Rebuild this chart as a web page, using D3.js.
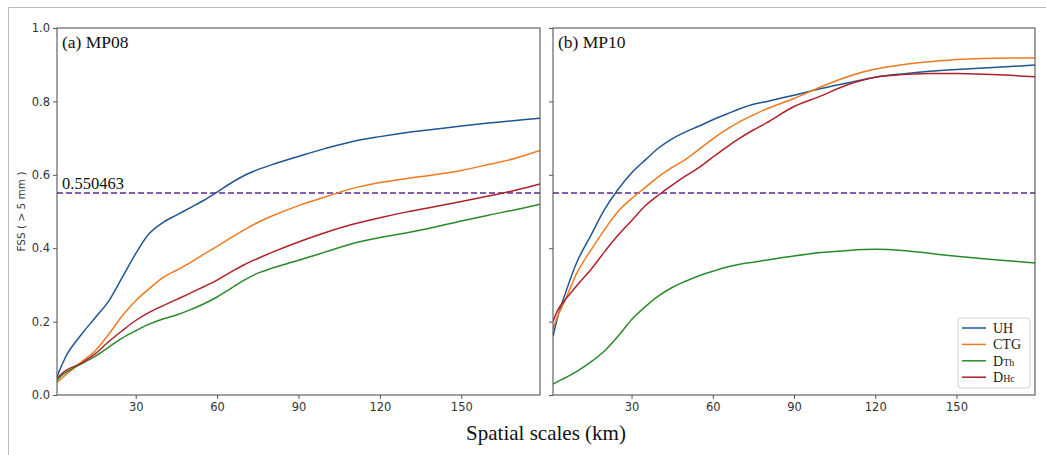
<!DOCTYPE html>
<html>
<head>
<meta charset="utf-8">
<script src="https://cdn.jsdelivr.net/npm/d3@7"></script>
<style>
  body { margin: 0; background: #fff; }
  svg { display: block; }
</style>
</head>
<body>
<div id="chart"></div>
<script>
// spatial scales (km)
var scales = [1, 3, 5, 10, 15, 20, 25, 30, 35, 40, 45, 50, 55, 60, 65, 70, 75, 80, 90, 100, 110, 120, 130, 140, 150, 160, 170, 179];

// (a) MP08
var uhA  = [0.05, 0.085, 0.115, 0.165, 0.21, 0.255, 0.32, 0.385, 0.44, 0.47, 0.49, 0.51, 0.53, 0.553, 0.577, 0.598, 0.614, 0.627, 0.65, 0.672, 0.691, 0.704, 0.715, 0.724, 0.733, 0.741, 0.748, 0.754];
var ctgA = [0.034, 0.047, 0.06, 0.09, 0.12, 0.165, 0.215, 0.257, 0.29, 0.32, 0.34, 0.36, 0.383, 0.405, 0.428, 0.45, 0.47, 0.487, 0.516, 0.54, 0.563, 0.579, 0.59, 0.60, 0.612, 0.628, 0.645, 0.666];
var dthA = [0.04, 0.055, 0.065, 0.085, 0.105, 0.13, 0.155, 0.175, 0.193, 0.207, 0.218, 0.232, 0.248, 0.267, 0.29, 0.313, 0.332, 0.345, 0.367, 0.39, 0.413, 0.429, 0.442, 0.457, 0.474, 0.49, 0.505, 0.52];
var dhcA = [0.045, 0.06, 0.07, 0.087, 0.112, 0.145, 0.175, 0.203, 0.225, 0.243, 0.26, 0.277, 0.295, 0.313, 0.335, 0.355, 0.372, 0.388, 0.417, 0.443, 0.465, 0.483, 0.499, 0.513, 0.527, 0.542, 0.558, 0.575];

// (b) MP10
var uhB  = [0.16, 0.22, 0.265, 0.365, 0.435, 0.505, 0.56, 0.605, 0.64, 0.673, 0.698, 0.717, 0.733, 0.75, 0.765, 0.78, 0.792, 0.80, 0.817, 0.835, 0.851, 0.866, 0.875, 0.882, 0.887, 0.891, 0.895, 0.899];
var ctgB = [0.18, 0.22, 0.25, 0.335, 0.395, 0.45, 0.50, 0.535, 0.565, 0.595, 0.62, 0.642, 0.67, 0.698, 0.723, 0.745, 0.763, 0.78, 0.808, 0.84, 0.868, 0.888, 0.90, 0.908, 0.914, 0.917, 0.918, 0.918];
var dthB = [0.03, 0.038, 0.045, 0.065, 0.09, 0.12, 0.16, 0.205, 0.24, 0.27, 0.293, 0.31, 0.325, 0.337, 0.348, 0.356, 0.362, 0.368, 0.379, 0.388, 0.394, 0.397, 0.394, 0.386, 0.378, 0.371, 0.365, 0.36];
var dhcB = [0.20, 0.235, 0.255, 0.30, 0.342, 0.39, 0.435, 0.475, 0.515, 0.545, 0.572, 0.597, 0.62, 0.648, 0.675, 0.70, 0.722, 0.742, 0.786, 0.815, 0.846, 0.866, 0.873, 0.876, 0.876, 0.874, 0.871, 0.867];

var threshold = 0.550463;
var xTicks = [30, 60, 90, 120, 150];
var yTicks = [0, 0.2, 0.4, 0.6, 0.8, 1.0];
var names = ['UH', 'CTG', 'DTh', 'DHc'];
var colors = ['#1f5591', '#ef7a1f', '#2a8a2a', '#b0202a'];

function draw() {
  var panels = [
    { title: '(a) MP08', left: 57, right: 540, series: [uhA, ctgA, dthA, dhcA], labels: true },
    { title: '(b) MP10', left: 553, right: 1035, series: [uhB, ctgB, dthB, dhcB], labels: false }
  ];

  var width = 1046, height = 455, plotTop = 28, plotBottom = 395;

  var svg = d3.select('#chart').append('svg')
      .attr('width', width)
      .attr('height', height);

  // outer frame
  svg.append('line').attr('x1', 8.5).attr('x2', 8.5).attr('y1', 7.5).attr('y2', height).attr('stroke', '#bbb');
  svg.append('line').attr('x1', 8.5).attr('x2', width).attr('y1', 7.5).attr('y2', 7.5).attr('stroke', '#bbb');

  var y = d3.scaleLinear().domain([0, 1]).range([plotBottom, plotTop]);

  panels.forEach(function(p) {
    var x = d3.scaleLinear().domain([1, 179]).range([p.left, p.right]);
    var g = svg.append('g');

    var clipId = 'clip' + p.left;
    g.append('clipPath').attr('id', clipId)
      .append('rect').attr('x', p.left).attr('y', plotTop).attr('width', p.right - p.left).attr('height', plotBottom - plotTop);

    var line = d3.line()
        .x(function(d, i) { return x(scales[i]); })
        .y(function(d) { return y(d); })
        .curve(d3.curveCatmullRom.alpha(0.5));

    var plot = g.append('g').attr('clip-path', 'url(#' + clipId + ')');

    plot.append('line')
        .attr('x1', p.left).attr('x2', p.right)
        .attr('y1', y(threshold)).attr('y2', y(threshold))
        .attr('stroke', '#5b2a93')
        .attr('stroke-width', 1.3)
        .attr('stroke-dasharray', '6,3');

    p.series.forEach(function(s, i) {
      plot.append('path')
          .datum(s)
          .attr('d', line)
          .attr('fill', 'none')
          .attr('stroke', colors[i])
          .attr('stroke-width', 1.5);
    });

    var xAxis = g.append('g')
        .attr('transform', 'translate(0,' + plotBottom + ')')
        .call(d3.axisBottom(x).tickValues(xTicks).tickSize(4).tickPadding(4));
    var yAxis = g.append('g')
        .attr('transform', 'translate(' + p.left + ',0)')
        .call(d3.axisLeft(y).tickValues(yTicks).tickSize(4).tickPadding(3)
          .tickFormat(p.labels ? d3.format('.1f') : function() { return ''; }));

    [xAxis, yAxis].forEach(function(a) {
      a.select('.domain').remove();
      a.selectAll('line').attr('stroke', '#555');
      a.selectAll('text')
          .attr('fill', '#333')
          .style('font-family', 'DejaVu Sans, sans-serif')
          .style('font-size', '11.5px');
    });

    g.append('rect')
        .attr('x', p.left).attr('y', plotTop)
        .attr('width', p.right - p.left).attr('height', plotBottom - plotTop)
        .attr('fill', 'none')
        .attr('stroke', '#444')
        .attr('stroke-width', 1);

    g.append('text')
        .attr('x', p.left + 5).attr('y', 48)
        .style('font-family', 'Liberation Serif, Times New Roman, serif')
        .style('font-size', '17.5px')
        .attr('fill', '#111')
        .text(p.title);
  });

  svg.append('text')
      .attr('x', 62).attr('y', 189)
      .style('font-family', 'Liberation Serif, Times New Roman, serif')
      .style('font-size', '16.5px')
      .attr('fill', '#111')
      .text(threshold.toString());

  // axis titles
  svg.append('text')
      .attr('transform', 'translate(25,' + ((plotTop + plotBottom) / 2) + ') rotate(-90)')
      .attr('text-anchor', 'middle')
      .style('font-family', 'DejaVu Sans, sans-serif')
      .style('font-size', '10.5px')
      .attr('fill', '#333')
      .text('FSS ( > 5 mm )');

  svg.append('text')
      .attr('x', 546).attr('y', 440)
      .attr('text-anchor', 'middle')
      .style('font-family', 'Liberation Serif, Times New Roman, serif')
      .style('font-size', '21px')
      .attr('fill', '#111')
      .text('Spatial scales (km)');

  // legend
  var legend = svg.append('g').attr('transform', 'translate(958,318)');
  legend.append('rect')
      .attr('width', 72).attr('height', 70)
      .attr('rx', 3)
      .attr('fill', '#fff')
      .attr('stroke', '#d0d0d0');

  names.forEach(function(n, i) {
    var yy = 10 + i * 16.4;
    legend.append('line')
        .attr('x1', 4).attr('x2', 28)
        .attr('y1', yy).attr('y2', yy)
        .attr('stroke', colors[i])
        .attr('stroke-width', 1.5);
    var t = legend.append('text')
        .attr('x', 35).attr('y', yy + 5)
        .style('font-family', 'Liberation Serif, Times New Roman, serif')
        .style('font-size', '14px')
        .attr('fill', '#222');
    if (n.charAt(0) === 'D') {
      t.append('tspan').text('D');
      t.append('tspan').style('font-size', '10px').text(n.slice(1));
    } else {
      t.text(n);
    }
  });
}

draw();
</script>
</body>
</html>
